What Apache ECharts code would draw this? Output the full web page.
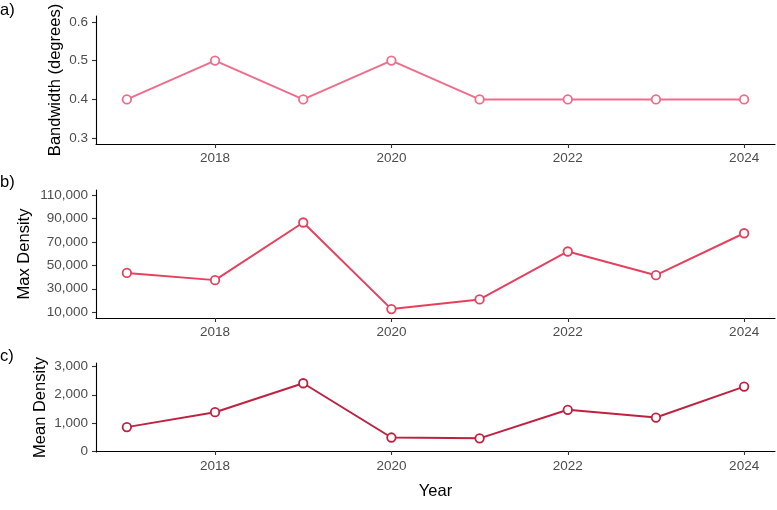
<!DOCTYPE html>
<html>
<head>
<meta charset="utf-8">
<script src="https://cdn.jsdelivr.net/npm/echarts@6/dist/echarts.min.js"></script>
<style>
  html, body { margin: 0; padding: 0; background: #fff; }
  #chart { width: 777px; height: 510px; }
</style>
</head>
<body>
<div id="chart"></div>
<script>
const years = [2017, 2018, 2019, 2020, 2021, 2022, 2023, 2024];
const bandwidth = [0.4, 0.5, 0.4, 0.5, 0.4, 0.4, 0.4, 0.4];
const maxDensity = [43600, 37400, 86700, 12600, 20900, 61900, 41600, 77500];
const meanDensity = [850, 1380, 2410, 480, 450, 1465, 1190, 2290];
const yearTicks = [2018, 2020, 2022, 2024];
const bandwidthTicks = [0.3, 0.4, 0.5, 0.6];
const maxTicks = [10000, 30000, 50000, 70000, 90000, 110000];
const meanTicks = [0, 1000, 2000, 3000];

!(function (window) {
    const { echarts } = window;
    const chart = echarts.init(document.getElementById('chart'));
    const font = 'Liberation Sans, Arial, sans-serif';
    const fmt = v => v.toLocaleString('en-US');

    const panels = [
        { top: 16, height: 128, name: 'Bandwidth (degrees)', gap: 32, min: 0.285, max: 0.615, ticks: bandwidthTicks, data: bandwidth, color: '#EF6D8B', letter: 'a)', ly: 2 },
        { top: 190, height: 128, name: 'Max Density', gap: 63, min: 5000, max: 114500, ticks: maxTicks, data: maxDensity, color: '#E7405F', letter: 'b)', ly: 174 },
        { top: 363, height: 89, name: 'Mean Density', gap: 47, min: -35, max: 3130, ticks: meanTicks, data: meanDensity, color: '#BF2141', letter: 'c)', ly: 348 },
    ];

    const axisLine = { show: true, lineStyle: { color: '#000', width: 1.1 } };
    const axisTick = { show: true, length: 4, lineStyle: { color: '#333', width: 1.1 } };

    const option = {
        animation: false,
        grid: panels.map(p => ({ left: 96, right: 2, top: p.top, height: p.height })),
        xAxis: panels.map((p, i) => ({
            type: 'value',
            gridIndex: i,
            min: 2016.65,
            max: 2024.35,
            axisLine,
            axisTick: Object.assign({ customValues: yearTicks }, axisTick),
            axisLabel: { customValues: yearTicks, formatter: v => String(v), color: '#4D4D4D', fontSize: 13.5, fontFamily: font, margin: 7 },
            splitLine: { show: false },
            name: i === 2 ? 'Year' : '',
            nameLocation: 'middle',
            nameGap: 31,
            nameMoveOverlap: false,
            nameTextStyle: { color: '#000', fontSize: 16.5, fontFamily: font },
        })),
        yAxis: panels.map((p, i) => ({
            type: 'value',
            gridIndex: i,
            min: p.min,
            max: p.max,
            axisLine,
            axisTick: Object.assign({ customValues: p.ticks }, axisTick),
            axisLabel: { customValues: p.ticks, formatter: fmt, color: '#4D4D4D', fontSize: 13.5, fontFamily: font, margin: 8 },
            splitLine: { show: false },
            name: p.name,
            nameLocation: 'middle',
            nameRotate: 90,
            nameGap: p.gap,
            nameMoveOverlap: false,
            nameTextStyle: { color: '#000', fontSize: 16.5, fontFamily: font },
        })),
        graphic: panels.map(p => ({
            type: 'text',
            left: 0,
            top: p.ly,
            style: { text: p.letter, fill: '#000', font: `16.5px ${font}` },
        })),
        series: panels.map((p, i) => ({
            type: 'line',
            xAxisIndex: i,
            yAxisIndex: i,
            data: years.map((y, j) => [y, p.data[j]]),
            symbol: 'circle',
            symbolSize: 8.5,
            lineStyle: { color: p.color, width: 2 },
            itemStyle: { color: '#fff', borderColor: p.color, borderWidth: 1.8 },
        })),
    };

    chart.setOption(option);
}(window));
</script>
</body>
</html>
